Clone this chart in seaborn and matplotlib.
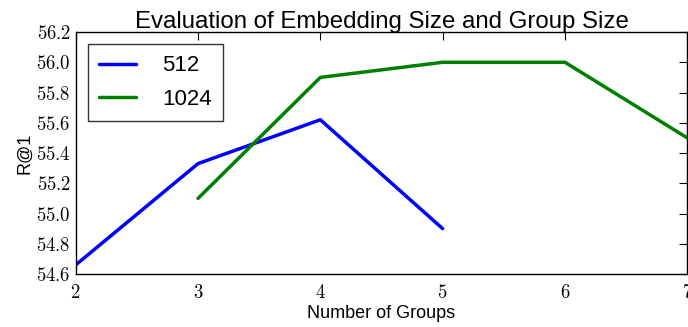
import matplotlib
matplotlib.use('Agg')
import matplotlib.pyplot as plt
import seaborn as sns
import pandas as pd
from matplotlib.ticker import FuncFormatter

groups_512 = [2, 3, 4, 5]
r1_512 = [54.66, 55.33, 55.62, 54.90]
groups_1024 = [3, 4, 5, 6, 7]
r1_1024 = [55.10, 55.90, 56.00, 56.00, 55.50]

df = pd.concat([
    pd.DataFrame({'groups': groups_512, 'r1': r1_512, 'size': '512'}),
    pd.DataFrame({'groups': groups_1024, 'r1': r1_1024, 'size': '1024'}),
])

sns.set_style('white')
plt.rcParams['font.family'] = ['Liberation Sans', 'DejaVu Sans']
plt.rcParams['mathtext.fontset'] = 'cm'
plt.rcParams['text.color'] = 'black'
plt.rcParams['axes.labelcolor'] = 'black'

fig = plt.figure(figsize=(6.88, 3.27), dpi=100)
ax = fig.add_axes([0.110, 0.162, 0.889, 0.740])
sns.lineplot(data=df, x='groups', y='r1', hue='size',
             palette={'512': '#0000ff', '1024': '#008000'},
             linewidth=2.5, ax=ax)

ax.set_xlim(2, 7)
ax.set_ylim(54.6, 56.2)
ax.set_xticks([2, 3, 4, 5, 6, 7])
ax.set_yticks([54.6, 54.8, 55.0, 55.2, 55.4, 55.6, 55.8, 56.0, 56.2])
ax.xaxis.set_major_formatter(FuncFormatter(lambda v, p: r'$%d$' % v))
ax.yaxis.set_major_formatter(FuncFormatter(lambda v, p: r'$%.1f$' % v))
ax.tick_params(direction='in', length=6, width=0.8, top=True, right=True,
               labelsize=13.5, colors='black')
ax.tick_params(axis='x', pad=7)
for s in ax.spines.values():
    s.set_color('black')
    s.set_linewidth(1.0)

ax.set_title('Evaluation of Embedding Size and Group Size', fontsize=17.3, pad=3)
ax.set_xlabel('Number of Groups', fontsize=13, labelpad=2)
ax.set_ylabel('R@1', fontsize=13, labelpad=2)

leg = ax.legend(loc='upper left', fontsize=16, frameon=True, fancybox=False,
                handlelength=1.65, borderpad=0.5, labelspacing=0.55, handletextpad=1.2,
                borderaxespad=0.55)
leg.get_frame().set_edgecolor('black')
leg.get_frame().set_linewidth(1.0)

fig.savefig('out.png', dpi=100)
